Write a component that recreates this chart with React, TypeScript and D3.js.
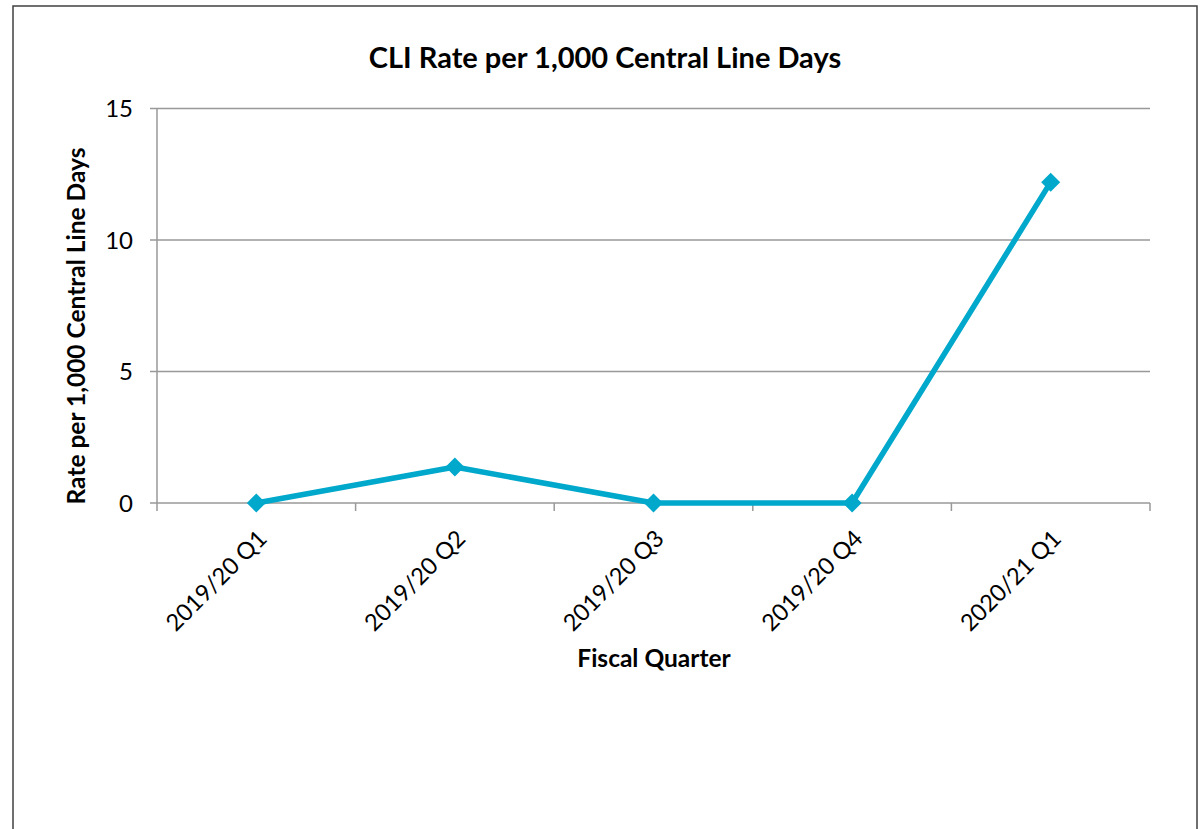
import React from "react";
import * as d3 from "d3";

// chart data
const quarters = ["2019/20 Q1", "2019/20 Q2", "2019/20 Q3", "2019/20 Q4", "2020/21 Q1"];
const rates = [0, 1.37, 0, 0, 12.2];
const yTicks = [0, 5, 10, 15];

const width = 1201;
const height = 829;
const plot = { left: 157, right: 1150, top: 108.5, bottom: 503 };
const lineColor = "#00A8CB";
const gridColor = "#999999";
const font = "Lato, 'Open Sans', sans-serif";

const App = () => {
  const x = d3.scaleBand().domain(quarters).range([plot.left, plot.right]);
  const y = d3.scaleLinear().domain([0, 15]).range([plot.bottom, plot.top]);
  const cx = (q: string) => (x(q) as number) + x.bandwidth() / 2;

  const line = d3
    .line<number>()
    .x((d, i) => cx(quarters[i]))
    .y((d) => y(d));

  // tick positions on the category axis (band edges)
  const xEdges = quarters.map((q) => x(q) as number).concat([plot.right]);

  return (
    <svg
      width={width}
      height={height}
      style={{ position: "absolute", left: 0, top: 0, background: "#fff" }}
      fontFamily={font}
    >
      <rect x={13} y={6} width={1184} height={900} fill="#fff" stroke="#404040" strokeWidth={1.5} />

      <text x={605} y={68} textAnchor="middle" fontSize={29} fontWeight="bold" fill="#000">
        CLI Rate per 1,000 Central Line Days
      </text>

      {/* gridlines + y ticks */}
      {yTicks.map((t) => (
        <g key={t}>
          <line x1={plot.left - 7} x2={plot.right} y1={y(t)} y2={y(t)} stroke={gridColor} strokeWidth={1.5} />
          <text x={133} y={y(t)} dy="0.36em" textAnchor="end" fontSize={24} fill="#000">
            {t}
          </text>
        </g>
      ))}

      {/* y axis line */}
      <line x1={plot.left} x2={plot.left} y1={plot.top} y2={plot.bottom} stroke={gridColor} strokeWidth={1.5} />

      {/* x ticks */}
      {xEdges.map((e, i) => (
        <line key={i} x1={e} x2={e} y1={plot.bottom} y2={plot.bottom + 8} stroke={gridColor} strokeWidth={1.5} />
      ))}

      {/* x labels */}
      {quarters.map((q) => (
        <text
          key={q}
          transform={`translate(${cx(q) + 6},${plot.bottom + 31}) rotate(-45)`}
          dy="0.36em"
          textAnchor="end"
          fontSize={23.5}
          fill="#000"
        >
          {q}
        </text>
      ))}

      <text
        transform={`translate(85,326) rotate(-90)`}
        textAnchor="middle"
        fontSize={24.5}
        fontWeight="bold"
        fill="#000"
      >
        Rate per 1,000 Central Line Days
      </text>

      <text x={654} y={667} textAnchor="middle" fontSize={24.5} fontWeight="bold" fill="#000">
        Fiscal Quarter
      </text>

      <path d={line(rates) ?? ""} fill="none" stroke={lineColor} strokeWidth={5.5} strokeLinejoin="round" />

      {rates.map((r, i) => {
        const px = cx(quarters[i]);
        const py = y(r);
        return (
          <path
            key={i}
            d={`M${px},${py - 9.5}L${px + 9.5},${py}L${px},${py + 9.5}L${px - 9.5},${py}Z`}
            fill={lineColor}
          />
        );
      })}
    </svg>
  );
};

export default App;
